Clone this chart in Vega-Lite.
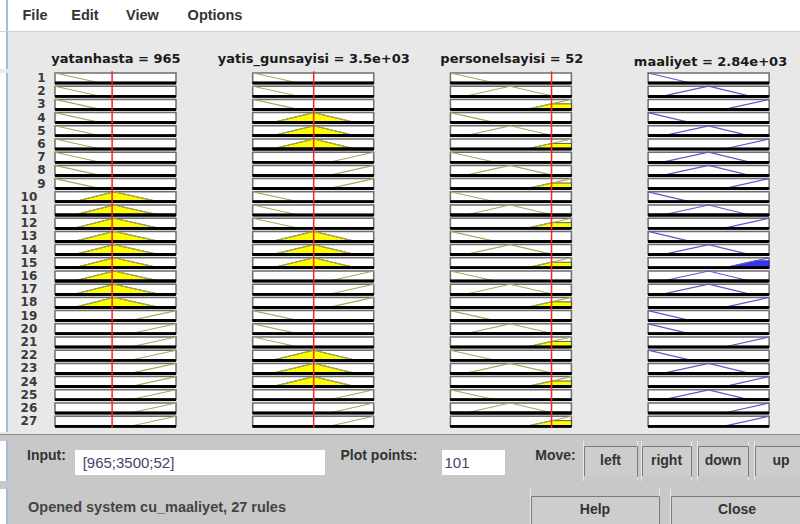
{
"$schema":"https://vega.github.io/schema/vega-lite/v6.json",
"background":"#e8e8e8",
"padding":0,
"spacing":0,
"config":{"view":{"fill":"white","stroke":"#6e6e6e","strokeWidth":1.5},"concat":{"spacing":0}},
"vconcat":[
{"hconcat":[
{"width":6,"height":31,"view":{"fill":"white","stroke":null},"data":{"values":[{}]},"mark":{"type":"text","fontSize":0},"encoding":{"text":{"value":""}}},
{"width":2,"height":31,"view":{"fill":"#9bbde0","stroke":null},"data":{"values":[{}]},"mark":{"type":"text","fontSize":0},"encoding":{"text":{"value":""}}},
{"width":14,"height":31,"view":{"fill":"white","stroke":null},"data":{"values":[{}]},"mark":{"type":"text","fontSize":0},"encoding":{"text":{"value":""}}},
{"width":26,"height":31,"view":{"fill":"white","stroke":null},"data":{"values":[{"t":"File"}]},"mark":{"type":"text","font":"Liberation Sans","fontSize":14.5,"fontWeight":"bold","color":"#333"},"encoding":{"text":{"field":"t"}}},
{"width":22,"height":31,"view":{"fill":"white","stroke":null},"data":{"values":[{}]},"mark":{"type":"text","fontSize":0},"encoding":{"text":{"value":""}}},
{"width":30,"height":31,"view":{"fill":"white","stroke":null},"data":{"values":[{"t":"Edit"}]},"mark":{"type":"text","font":"Liberation Sans","fontSize":14.5,"fontWeight":"bold","color":"#333"},"encoding":{"text":{"field":"t"}}},
{"width":23,"height":31,"view":{"fill":"white","stroke":null},"data":{"values":[{}]},"mark":{"type":"text","fontSize":0},"encoding":{"text":{"value":""}}},
{"width":39,"height":31,"view":{"fill":"white","stroke":null},"data":{"values":[{"t":"View"}]},"mark":{"type":"text","font":"Liberation Sans","fontSize":14.5,"fontWeight":"bold","color":"#333"},"encoding":{"text":{"field":"t"}}},
{"width":23,"height":31,"view":{"fill":"white","stroke":null},"data":{"values":[{}]},"mark":{"type":"text","fontSize":0},"encoding":{"text":{"value":""}}},
{"width":60,"height":31,"view":{"fill":"white","stroke":null},"data":{"values":[{"t":"Options"}]},"mark":{"type":"text","font":"Liberation Sans","fontSize":14.5,"fontWeight":"bold","color":"#333"},"encoding":{"text":{"field":"t"}}},
{"width":555,"height":31,"view":{"fill":"white","stroke":null},"data":{"values":[{}]},"mark":{"type":"text","fontSize":0},"encoding":{"text":{"value":""}}}
],"spacing":0,"bounds":"flush"},
{"width":800,"height":1,"view":{"fill":"#cfcfcf","stroke":null},"data":{"values":[{}]},"mark":{"type":"text","fontSize":0},"encoding":{"text":{"value":""}}},
{"hconcat":[
{"width":6,"height":11,"view":{"fill":"white","stroke":null},"data":{"values":[{}]},"mark":{"type":"text","fontSize":0},"encoding":{"text":{"value":""}}},
{"width":2,"height":11,"view":{"fill":"#9bbde0","stroke":null},"data":{"values":[{}]},"mark":{"type":"text","fontSize":0},"encoding":{"text":{"value":""}}},
{"width":792,"height":11,"view":{"fill":"#e8e8e8","stroke":null},"data":{"values":[{}]},"mark":{"type":"text","fontSize":0},"encoding":{"text":{"value":""}}}
],"spacing":0,"bounds":"flush"},
{"hconcat":[
{"width":6,"height":26,"view":{"fill":"white","stroke":null},"data":{"values":[{}]},"mark":{"type":"text","fontSize":0},"encoding":{"text":{"value":""}}},
{"width":2,"height":26,"view":{"fill":"#9bbde0","stroke":null},"data":{"values":[{}]},"mark":{"type":"text","fontSize":0},"encoding":{"text":{"value":""}}},
{"width":8.65,"height":26,"view":{"fill":"#e8e8e8","stroke":null},"data":{"values":[{}]},"mark":{"type":"text","fontSize":0},"encoding":{"text":{"value":""}}},
{"width":197.7,"height":26,"view":{"fill":"#e8e8e8","stroke":null},"data":{"values":[{"t":"yatanhasta = 965"}]},"mark":{"type":"text","font":"DejaVu Sans","fontSize":13,"fontWeight":"bold","color":"#1a1a1a","baseline":"top","dy":-3},"encoding":{"text":{"field":"t"}}},
{"width":197.7,"height":26,"view":{"fill":"#e8e8e8","stroke":null},"data":{"values":[{"t":"yatis_gunsayisi = 3.5e+03"}]},"mark":{"type":"text","font":"DejaVu Sans","fontSize":13,"fontWeight":"bold","color":"#1a1a1a","baseline":"top","dy":-3},"encoding":{"text":{"field":"t"}}},
{"width":197.7,"height":26,"view":{"fill":"#e8e8e8","stroke":null},"data":{"values":[{"t":"personelsayisi = 52"}]},"mark":{"type":"text","font":"DejaVu Sans","fontSize":13,"fontWeight":"bold","color":"#1a1a1a","baseline":"top","dy":-3},"encoding":{"text":{"field":"t"}}},
{"width":7.25,"height":26,"view":{"fill":"#e8e8e8","stroke":null},"data":{"values":[{}]},"mark":{"type":"text","fontSize":0},"encoding":{"text":{"value":""}}},
{"width":183,"height":26,"view":{"fill":"#e8e8e8","stroke":null},"data":{"values":[{"t":"maaliyet = 2.84e+03"}]},"mark":{"type":"text","font":"DejaVu Sans","fontSize":13,"fontWeight":"bold","color":"#1a1a1a","baseline":"top","dy":0},"encoding":{"text":{"field":"t"}}}
],"spacing":0,"bounds":"flush"},
{"hconcat":[
{"width":6,"height":359,"view":{"fill":"white","stroke":null},"data":{"values":[{}]},"mark":{"type":"text","fontSize":0},"encoding":{"text":{"value":""}}},
{"width":2,"height":359,"view":{"fill":"#9bbde0","stroke":null},"data":{"values":[{}]},"mark":{"type":"text","fontSize":0},"encoding":{"text":{"value":""}}},
{"width":12,"height":359,"view":{"fill":"#e8e8e8","stroke":null},"data":{"values":[{}]},"mark":{"type":"text","fontSize":0},"encoding":{"text":{"value":""}}},
{
"data":{"values":[
{"v":"yatanhasta = 965","r":1,"k":"mf","x":[0,0.375,1],"m":[1,0,0]},
{"v":"yatanhasta = 965","r":2,"k":"mf","x":[0,0.375,1],"m":[1,0,0]},
{"v":"yatanhasta = 965","r":3,"k":"mf","x":[0,0.375,1],"m":[1,0,0]},
{"v":"yatanhasta = 965","r":4,"k":"mf","x":[0,0.375,1],"m":[1,0,0]},
{"v":"yatanhasta = 965","r":5,"k":"mf","x":[0,0.375,1],"m":[1,0,0]},
{"v":"yatanhasta = 965","r":6,"k":"mf","x":[0,0.375,1],"m":[1,0,0]},
{"v":"yatanhasta = 965","r":7,"k":"mf","x":[0,0.375,1],"m":[1,0,0]},
{"v":"yatanhasta = 965","r":8,"k":"mf","x":[0,0.375,1],"m":[1,0,0]},
{"v":"yatanhasta = 965","r":9,"k":"mf","x":[0,0.375,1],"m":[1,0,0]},
{"v":"yatanhasta = 965","r":10,"k":"mf","x":[0,0.157,0.488,0.86,1],"m":[0,0,1,0,0]},
{"v":"yatanhasta = 965","r":11,"k":"mf","x":[0,0.157,0.488,0.86,1],"m":[0,0,1,0,0]},
{"v":"yatanhasta = 965","r":12,"k":"mf","x":[0,0.157,0.488,0.86,1],"m":[0,0,1,0,0]},
{"v":"yatanhasta = 965","r":13,"k":"mf","x":[0,0.157,0.488,0.86,1],"m":[0,0,1,0,0]},
{"v":"yatanhasta = 965","r":14,"k":"mf","x":[0,0.157,0.488,0.86,1],"m":[0,0,1,0,0]},
{"v":"yatanhasta = 965","r":15,"k":"mf","x":[0,0.157,0.488,0.86,1],"m":[0,0,1,0,0]},
{"v":"yatanhasta = 965","r":16,"k":"mf","x":[0,0.157,0.488,0.86,1],"m":[0,0,1,0,0]},
{"v":"yatanhasta = 965","r":17,"k":"mf","x":[0,0.157,0.488,0.86,1],"m":[0,0,1,0,0]},
{"v":"yatanhasta = 965","r":18,"k":"mf","x":[0,0.157,0.488,0.86,1],"m":[0,0,1,0,0]},
{"v":"yatanhasta = 965","r":19,"k":"mf","x":[0,0.62,1],"m":[0,0,1]},
{"v":"yatanhasta = 965","r":20,"k":"mf","x":[0,0.62,1],"m":[0,0,1]},
{"v":"yatanhasta = 965","r":21,"k":"mf","x":[0,0.62,1],"m":[0,0,1]},
{"v":"yatanhasta = 965","r":22,"k":"mf","x":[0,0.62,1],"m":[0,0,1]},
{"v":"yatanhasta = 965","r":23,"k":"mf","x":[0,0.62,1],"m":[0,0,1]},
{"v":"yatanhasta = 965","r":24,"k":"mf","x":[0,0.62,1],"m":[0,0,1]},
{"v":"yatanhasta = 965","r":25,"k":"mf","x":[0,0.62,1],"m":[0,0,1]},
{"v":"yatanhasta = 965","r":26,"k":"mf","x":[0,0.62,1],"m":[0,0,1]},
{"v":"yatanhasta = 965","r":27,"k":"mf","x":[0,0.62,1],"m":[0,0,1]},
{"v":"yatis_gunsayisi = 3.5e+03","r":1,"k":"mf","x":[0,0.38,1],"m":[1,0,0]},
{"v":"yatis_gunsayisi = 3.5e+03","r":2,"k":"mf","x":[0,0.38,1],"m":[1,0,0]},
{"v":"yatis_gunsayisi = 3.5e+03","r":3,"k":"mf","x":[0,0.38,1],"m":[1,0,0]},
{"v":"yatis_gunsayisi = 3.5e+03","r":4,"k":"mf","x":[0,0.16,0.505,0.85,1],"m":[0,0,1,0,0]},
{"v":"yatis_gunsayisi = 3.5e+03","r":5,"k":"mf","x":[0,0.16,0.505,0.85,1],"m":[0,0,1,0,0]},
{"v":"yatis_gunsayisi = 3.5e+03","r":6,"k":"mf","x":[0,0.16,0.505,0.85,1],"m":[0,0,1,0,0]},
{"v":"yatis_gunsayisi = 3.5e+03","r":7,"k":"mf","x":[0,0.63,1],"m":[0,0,1]},
{"v":"yatis_gunsayisi = 3.5e+03","r":8,"k":"mf","x":[0,0.63,1],"m":[0,0,1]},
{"v":"yatis_gunsayisi = 3.5e+03","r":9,"k":"mf","x":[0,0.63,1],"m":[0,0,1]},
{"v":"yatis_gunsayisi = 3.5e+03","r":10,"k":"mf","x":[0,0.38,1],"m":[1,0,0]},
{"v":"yatis_gunsayisi = 3.5e+03","r":11,"k":"mf","x":[0,0.38,1],"m":[1,0,0]},
{"v":"yatis_gunsayisi = 3.5e+03","r":12,"k":"mf","x":[0,0.38,1],"m":[1,0,0]},
{"v":"yatis_gunsayisi = 3.5e+03","r":13,"k":"mf","x":[0,0.16,0.505,0.85,1],"m":[0,0,1,0,0]},
{"v":"yatis_gunsayisi = 3.5e+03","r":14,"k":"mf","x":[0,0.16,0.505,0.85,1],"m":[0,0,1,0,0]},
{"v":"yatis_gunsayisi = 3.5e+03","r":15,"k":"mf","x":[0,0.16,0.505,0.85,1],"m":[0,0,1,0,0]},
{"v":"yatis_gunsayisi = 3.5e+03","r":16,"k":"mf","x":[0,0.63,1],"m":[0,0,1]},
{"v":"yatis_gunsayisi = 3.5e+03","r":17,"k":"mf","x":[0,0.63,1],"m":[0,0,1]},
{"v":"yatis_gunsayisi = 3.5e+03","r":18,"k":"mf","x":[0,0.63,1],"m":[0,0,1]},
{"v":"yatis_gunsayisi = 3.5e+03","r":19,"k":"mf","x":[0,0.38,1],"m":[1,0,0]},
{"v":"yatis_gunsayisi = 3.5e+03","r":20,"k":"mf","x":[0,0.38,1],"m":[1,0,0]},
{"v":"yatis_gunsayisi = 3.5e+03","r":21,"k":"mf","x":[0,0.38,1],"m":[1,0,0]},
{"v":"yatis_gunsayisi = 3.5e+03","r":22,"k":"mf","x":[0,0.16,0.505,0.85,1],"m":[0,0,1,0,0]},
{"v":"yatis_gunsayisi = 3.5e+03","r":23,"k":"mf","x":[0,0.16,0.505,0.85,1],"m":[0,0,1,0,0]},
{"v":"yatis_gunsayisi = 3.5e+03","r":24,"k":"mf","x":[0,0.16,0.505,0.85,1],"m":[0,0,1,0,0]},
{"v":"yatis_gunsayisi = 3.5e+03","r":25,"k":"mf","x":[0,0.63,1],"m":[0,0,1]},
{"v":"yatis_gunsayisi = 3.5e+03","r":26,"k":"mf","x":[0,0.63,1],"m":[0,0,1]},
{"v":"yatis_gunsayisi = 3.5e+03","r":27,"k":"mf","x":[0,0.63,1],"m":[0,0,1]},
{"v":"personelsayisi = 52","r":1,"k":"mf","x":[0,0.37,1],"m":[1,0,0]},
{"v":"personelsayisi = 52","r":2,"k":"mf","x":[0,0.123,0.493,0.85,1],"m":[0,0,1,0,0]},
{"v":"personelsayisi = 52","r":3,"k":"mf","x":[0,0.63,1],"m":[0,0,1]},
{"v":"personelsayisi = 52","r":4,"k":"mf","x":[0,0.37,1],"m":[1,0,0]},
{"v":"personelsayisi = 52","r":5,"k":"mf","x":[0,0.123,0.493,0.85,1],"m":[0,0,1,0,0]},
{"v":"personelsayisi = 52","r":6,"k":"mf","x":[0,0.63,1],"m":[0,0,1]},
{"v":"personelsayisi = 52","r":7,"k":"mf","x":[0,0.37,1],"m":[1,0,0]},
{"v":"personelsayisi = 52","r":8,"k":"mf","x":[0,0.123,0.493,0.85,1],"m":[0,0,1,0,0]},
{"v":"personelsayisi = 52","r":9,"k":"mf","x":[0,0.63,1],"m":[0,0,1]},
{"v":"personelsayisi = 52","r":10,"k":"mf","x":[0,0.37,1],"m":[1,0,0]},
{"v":"personelsayisi = 52","r":11,"k":"mf","x":[0,0.123,0.493,0.85,1],"m":[0,0,1,0,0]},
{"v":"personelsayisi = 52","r":12,"k":"mf","x":[0,0.63,1],"m":[0,0,1]},
{"v":"personelsayisi = 52","r":13,"k":"mf","x":[0,0.37,1],"m":[1,0,0]},
{"v":"personelsayisi = 52","r":14,"k":"mf","x":[0,0.123,0.493,0.85,1],"m":[0,0,1,0,0]},
{"v":"personelsayisi = 52","r":15,"k":"mf","x":[0,0.63,1],"m":[0,0,1]},
{"v":"personelsayisi = 52","r":16,"k":"mf","x":[0,0.37,1],"m":[1,0,0]},
{"v":"personelsayisi = 52","r":17,"k":"mf","x":[0,0.123,0.493,0.85,1],"m":[0,0,1,0,0]},
{"v":"personelsayisi = 52","r":18,"k":"mf","x":[0,0.63,1],"m":[0,0,1]},
{"v":"personelsayisi = 52","r":19,"k":"mf","x":[0,0.37,1],"m":[1,0,0]},
{"v":"personelsayisi = 52","r":20,"k":"mf","x":[0,0.123,0.493,0.85,1],"m":[0,0,1,0,0]},
{"v":"personelsayisi = 52","r":21,"k":"mf","x":[0,0.63,1],"m":[0,0,1]},
{"v":"personelsayisi = 52","r":22,"k":"mf","x":[0,0.37,1],"m":[1,0,0]},
{"v":"personelsayisi = 52","r":23,"k":"mf","x":[0,0.123,0.493,0.85,1],"m":[0,0,1,0,0]},
{"v":"personelsayisi = 52","r":24,"k":"mf","x":[0,0.63,1],"m":[0,0,1]},
{"v":"personelsayisi = 52","r":25,"k":"mf","x":[0,0.37,1],"m":[1,0,0]},
{"v":"personelsayisi = 52","r":26,"k":"mf","x":[0,0.123,0.493,0.85,1],"m":[0,0,1,0,0]},
{"v":"personelsayisi = 52","r":27,"k":"mf","x":[0,0.63,1],"m":[0,0,1]},
{"v":"maaliyet = 2.84e+03","r":1,"k":"mf","x":[0,0.35,1],"m":[1,0,0]},
{"v":"maaliyet = 2.84e+03","r":2,"k":"mf","x":[0,0.12,0.5,0.84,1],"m":[0,0,1,0,0]},
{"v":"maaliyet = 2.84e+03","r":3,"k":"mf","x":[0,0.63,1],"m":[0,0,1]},
{"v":"maaliyet = 2.84e+03","r":4,"k":"mf","x":[0,0.35,1],"m":[1,0,0]},
{"v":"maaliyet = 2.84e+03","r":5,"k":"mf","x":[0,0.12,0.5,0.84,1],"m":[0,0,1,0,0]},
{"v":"maaliyet = 2.84e+03","r":6,"k":"mf","x":[0,0.63,1],"m":[0,0,1]},
{"v":"maaliyet = 2.84e+03","r":7,"k":"mf","x":[0,0.12,0.5,0.84,1],"m":[0,0,1,0,0]},
{"v":"maaliyet = 2.84e+03","r":8,"k":"mf","x":[0,0.12,0.5,0.84,1],"m":[0,0,1,0,0]},
{"v":"maaliyet = 2.84e+03","r":9,"k":"mf","x":[0,0.63,1],"m":[0,0,1]},
{"v":"maaliyet = 2.84e+03","r":10,"k":"mf","x":[0,0.35,1],"m":[1,0,0]},
{"v":"maaliyet = 2.84e+03","r":11,"k":"mf","x":[0,0.12,0.5,0.84,1],"m":[0,0,1,0,0]},
{"v":"maaliyet = 2.84e+03","r":12,"k":"mf","x":[0,0.63,1],"m":[0,0,1]},
{"v":"maaliyet = 2.84e+03","r":13,"k":"mf","x":[0,0.35,1],"m":[1,0,0]},
{"v":"maaliyet = 2.84e+03","r":14,"k":"mf","x":[0,0.12,0.5,0.84,1],"m":[0,0,1,0,0]},
{"v":"maaliyet = 2.84e+03","r":15,"k":"mf","x":[0,0.63,1],"m":[0,0,1]},
{"v":"maaliyet = 2.84e+03","r":16,"k":"mf","x":[0,0.12,0.5,0.84,1],"m":[0,0,1,0,0]},
{"v":"maaliyet = 2.84e+03","r":17,"k":"mf","x":[0,0.12,0.5,0.84,1],"m":[0,0,1,0,0]},
{"v":"maaliyet = 2.84e+03","r":18,"k":"mf","x":[0,0.63,1],"m":[0,0,1]},
{"v":"maaliyet = 2.84e+03","r":19,"k":"mf","x":[0,0.35,1],"m":[1,0,0]},
{"v":"maaliyet = 2.84e+03","r":20,"k":"mf","x":[0,0.35,1],"m":[1,0,0]},
{"v":"maaliyet = 2.84e+03","r":21,"k":"mf","x":[0,0.63,1],"m":[0,0,1]},
{"v":"maaliyet = 2.84e+03","r":22,"k":"mf","x":[0,0.35,1],"m":[1,0,0]},
{"v":"maaliyet = 2.84e+03","r":23,"k":"mf","x":[0,0.12,0.5,0.84,1],"m":[0,0,1,0,0]},
{"v":"maaliyet = 2.84e+03","r":24,"k":"mf","x":[0,0.63,1],"m":[0,0,1]},
{"v":"maaliyet = 2.84e+03","r":25,"k":"mf","x":[0,0.12,0.5,0.84,1],"m":[0,0,1,0,0]},
{"v":"maaliyet = 2.84e+03","r":26,"k":"mf","x":[0,0.63,1],"m":[0,0,1]},
{"v":"maaliyet = 2.84e+03","r":27,"k":"mf","x":[0,0.63,1],"m":[0,0,1]},
{"v":"yatanhasta = 965","r":10,"k":"fill","x":[0.157,0.471,0.507,0.86],"m":[0,0.95,0.95,0]},
{"v":"yatanhasta = 965","r":11,"k":"fill","x":[0.157,0.471,0.507,0.86],"m":[0,0.95,0.95,0]},
{"v":"yatanhasta = 965","r":12,"k":"fill","x":[0.157,0.471,0.507,0.86],"m":[0,0.95,0.95,0]},
{"v":"yatanhasta = 965","r":13,"k":"fill","x":[0.157,0.471,0.507,0.86],"m":[0,0.95,0.95,0]},
{"v":"yatanhasta = 965","r":14,"k":"fill","x":[0.157,0.471,0.507,0.86],"m":[0,0.95,0.95,0]},
{"v":"yatanhasta = 965","r":15,"k":"fill","x":[0.157,0.471,0.507,0.86],"m":[0,0.95,0.95,0]},
{"v":"yatanhasta = 965","r":16,"k":"fill","x":[0.157,0.471,0.507,0.86],"m":[0,0.95,0.95,0]},
{"v":"yatanhasta = 965","r":17,"k":"fill","x":[0.157,0.471,0.507,0.86],"m":[0,0.95,0.95,0]},
{"v":"yatanhasta = 965","r":18,"k":"fill","x":[0.157,0.471,0.507,0.86],"m":[0,0.95,0.95,0]},
{"v":"yatis_gunsayisi = 3.5e+03","r":4,"k":"fill","x":[0.16,0.505,0.85],"m":[0,1,0]},
{"v":"yatis_gunsayisi = 3.5e+03","r":5,"k":"fill","x":[0.16,0.505,0.85],"m":[0,1,0]},
{"v":"yatis_gunsayisi = 3.5e+03","r":6,"k":"fill","x":[0.16,0.505,0.85],"m":[0,1,0]},
{"v":"yatis_gunsayisi = 3.5e+03","r":13,"k":"fill","x":[0.16,0.505,0.85],"m":[0,1,0]},
{"v":"yatis_gunsayisi = 3.5e+03","r":14,"k":"fill","x":[0.16,0.505,0.85],"m":[0,1,0]},
{"v":"yatis_gunsayisi = 3.5e+03","r":15,"k":"fill","x":[0.16,0.505,0.85],"m":[0,1,0]},
{"v":"yatis_gunsayisi = 3.5e+03","r":22,"k":"fill","x":[0.16,0.505,0.85],"m":[0,1,0]},
{"v":"yatis_gunsayisi = 3.5e+03","r":23,"k":"fill","x":[0.16,0.505,0.85],"m":[0,1,0]},
{"v":"yatis_gunsayisi = 3.5e+03","r":24,"k":"fill","x":[0.16,0.505,0.85],"m":[0,1,0]},
{"v":"personelsayisi = 52","r":3,"k":"fill","x":[0.63,0.836,1],"m":[0,0.557,0.557]},
{"v":"personelsayisi = 52","r":6,"k":"fill","x":[0.63,0.836,1],"m":[0,0.557,0.557]},
{"v":"personelsayisi = 52","r":9,"k":"fill","x":[0.63,0.836,1],"m":[0,0.557,0.557]},
{"v":"personelsayisi = 52","r":12,"k":"fill","x":[0.63,0.836,1],"m":[0,0.557,0.557]},
{"v":"personelsayisi = 52","r":15,"k":"fill","x":[0.63,0.836,1],"m":[0,0.557,0.557]},
{"v":"personelsayisi = 52","r":18,"k":"fill","x":[0.63,0.836,1],"m":[0,0.557,0.557]},
{"v":"personelsayisi = 52","r":21,"k":"fill","x":[0.63,0.836,1],"m":[0,0.557,0.557]},
{"v":"personelsayisi = 52","r":24,"k":"fill","x":[0.63,0.836,1],"m":[0,0.557,0.557]},
{"v":"personelsayisi = 52","r":27,"k":"fill","x":[0.63,0.836,1],"m":[0,0.557,0.557]},
{"v":"maaliyet = 2.84e+03","r":15,"k":"fill","x":[0.63,0.89,1],"m":[0,0.7,0.7]},
{"v":"yatanhasta = 965","r":1,"k":"in","x":[0.472],"m":[0]},
{"v":"yatanhasta = 965","r":2,"k":"in","x":[0.472],"m":[0]},
{"v":"yatanhasta = 965","r":3,"k":"in","x":[0.472],"m":[0]},
{"v":"yatanhasta = 965","r":4,"k":"in","x":[0.472],"m":[0]},
{"v":"yatanhasta = 965","r":5,"k":"in","x":[0.472],"m":[0]},
{"v":"yatanhasta = 965","r":6,"k":"in","x":[0.472],"m":[0]},
{"v":"yatanhasta = 965","r":7,"k":"in","x":[0.472],"m":[0]},
{"v":"yatanhasta = 965","r":8,"k":"in","x":[0.472],"m":[0]},
{"v":"yatanhasta = 965","r":9,"k":"in","x":[0.472],"m":[0]},
{"v":"yatanhasta = 965","r":10,"k":"in","x":[0.472],"m":[0]},
{"v":"yatanhasta = 965","r":11,"k":"in","x":[0.472],"m":[0]},
{"v":"yatanhasta = 965","r":12,"k":"in","x":[0.472],"m":[0]},
{"v":"yatanhasta = 965","r":13,"k":"in","x":[0.472],"m":[0]},
{"v":"yatanhasta = 965","r":14,"k":"in","x":[0.472],"m":[0]},
{"v":"yatanhasta = 965","r":15,"k":"in","x":[0.472],"m":[0]},
{"v":"yatanhasta = 965","r":16,"k":"in","x":[0.472],"m":[0]},
{"v":"yatanhasta = 965","r":17,"k":"in","x":[0.472],"m":[0]},
{"v":"yatanhasta = 965","r":18,"k":"in","x":[0.472],"m":[0]},
{"v":"yatanhasta = 965","r":19,"k":"in","x":[0.472],"m":[0]},
{"v":"yatanhasta = 965","r":20,"k":"in","x":[0.472],"m":[0]},
{"v":"yatanhasta = 965","r":21,"k":"in","x":[0.472],"m":[0]},
{"v":"yatanhasta = 965","r":22,"k":"in","x":[0.472],"m":[0]},
{"v":"yatanhasta = 965","r":23,"k":"in","x":[0.472],"m":[0]},
{"v":"yatanhasta = 965","r":24,"k":"in","x":[0.472],"m":[0]},
{"v":"yatanhasta = 965","r":25,"k":"in","x":[0.472],"m":[0]},
{"v":"yatanhasta = 965","r":26,"k":"in","x":[0.472],"m":[0]},
{"v":"yatanhasta = 965","r":27,"k":"in","x":[0.472],"m":[0]},
{"v":"yatis_gunsayisi = 3.5e+03","r":1,"k":"in","x":[0.504],"m":[0]},
{"v":"yatis_gunsayisi = 3.5e+03","r":2,"k":"in","x":[0.504],"m":[0]},
{"v":"yatis_gunsayisi = 3.5e+03","r":3,"k":"in","x":[0.504],"m":[0]},
{"v":"yatis_gunsayisi = 3.5e+03","r":4,"k":"in","x":[0.504],"m":[0]},
{"v":"yatis_gunsayisi = 3.5e+03","r":5,"k":"in","x":[0.504],"m":[0]},
{"v":"yatis_gunsayisi = 3.5e+03","r":6,"k":"in","x":[0.504],"m":[0]},
{"v":"yatis_gunsayisi = 3.5e+03","r":7,"k":"in","x":[0.504],"m":[0]},
{"v":"yatis_gunsayisi = 3.5e+03","r":8,"k":"in","x":[0.504],"m":[0]},
{"v":"yatis_gunsayisi = 3.5e+03","r":9,"k":"in","x":[0.504],"m":[0]},
{"v":"yatis_gunsayisi = 3.5e+03","r":10,"k":"in","x":[0.504],"m":[0]},
{"v":"yatis_gunsayisi = 3.5e+03","r":11,"k":"in","x":[0.504],"m":[0]},
{"v":"yatis_gunsayisi = 3.5e+03","r":12,"k":"in","x":[0.504],"m":[0]},
{"v":"yatis_gunsayisi = 3.5e+03","r":13,"k":"in","x":[0.504],"m":[0]},
{"v":"yatis_gunsayisi = 3.5e+03","r":14,"k":"in","x":[0.504],"m":[0]},
{"v":"yatis_gunsayisi = 3.5e+03","r":15,"k":"in","x":[0.504],"m":[0]},
{"v":"yatis_gunsayisi = 3.5e+03","r":16,"k":"in","x":[0.504],"m":[0]},
{"v":"yatis_gunsayisi = 3.5e+03","r":17,"k":"in","x":[0.504],"m":[0]},
{"v":"yatis_gunsayisi = 3.5e+03","r":18,"k":"in","x":[0.504],"m":[0]},
{"v":"yatis_gunsayisi = 3.5e+03","r":19,"k":"in","x":[0.504],"m":[0]},
{"v":"yatis_gunsayisi = 3.5e+03","r":20,"k":"in","x":[0.504],"m":[0]},
{"v":"yatis_gunsayisi = 3.5e+03","r":21,"k":"in","x":[0.504],"m":[0]},
{"v":"yatis_gunsayisi = 3.5e+03","r":22,"k":"in","x":[0.504],"m":[0]},
{"v":"yatis_gunsayisi = 3.5e+03","r":23,"k":"in","x":[0.504],"m":[0]},
{"v":"yatis_gunsayisi = 3.5e+03","r":24,"k":"in","x":[0.504],"m":[0]},
{"v":"yatis_gunsayisi = 3.5e+03","r":25,"k":"in","x":[0.504],"m":[0]},
{"v":"yatis_gunsayisi = 3.5e+03","r":26,"k":"in","x":[0.504],"m":[0]},
{"v":"yatis_gunsayisi = 3.5e+03","r":27,"k":"in","x":[0.504],"m":[0]},
{"v":"personelsayisi = 52","r":1,"k":"in","x":[0.836],"m":[0]},
{"v":"personelsayisi = 52","r":2,"k":"in","x":[0.836],"m":[0]},
{"v":"personelsayisi = 52","r":3,"k":"in","x":[0.836],"m":[0]},
{"v":"personelsayisi = 52","r":4,"k":"in","x":[0.836],"m":[0]},
{"v":"personelsayisi = 52","r":5,"k":"in","x":[0.836],"m":[0]},
{"v":"personelsayisi = 52","r":6,"k":"in","x":[0.836],"m":[0]},
{"v":"personelsayisi = 52","r":7,"k":"in","x":[0.836],"m":[0]},
{"v":"personelsayisi = 52","r":8,"k":"in","x":[0.836],"m":[0]},
{"v":"personelsayisi = 52","r":9,"k":"in","x":[0.836],"m":[0]},
{"v":"personelsayisi = 52","r":10,"k":"in","x":[0.836],"m":[0]},
{"v":"personelsayisi = 52","r":11,"k":"in","x":[0.836],"m":[0]},
{"v":"personelsayisi = 52","r":12,"k":"in","x":[0.836],"m":[0]},
{"v":"personelsayisi = 52","r":13,"k":"in","x":[0.836],"m":[0]},
{"v":"personelsayisi = 52","r":14,"k":"in","x":[0.836],"m":[0]},
{"v":"personelsayisi = 52","r":15,"k":"in","x":[0.836],"m":[0]},
{"v":"personelsayisi = 52","r":16,"k":"in","x":[0.836],"m":[0]},
{"v":"personelsayisi = 52","r":17,"k":"in","x":[0.836],"m":[0]},
{"v":"personelsayisi = 52","r":18,"k":"in","x":[0.836],"m":[0]},
{"v":"personelsayisi = 52","r":19,"k":"in","x":[0.836],"m":[0]},
{"v":"personelsayisi = 52","r":20,"k":"in","x":[0.836],"m":[0]},
{"v":"personelsayisi = 52","r":21,"k":"in","x":[0.836],"m":[0]},
{"v":"personelsayisi = 52","r":22,"k":"in","x":[0.836],"m":[0]},
{"v":"personelsayisi = 52","r":23,"k":"in","x":[0.836],"m":[0]},
{"v":"personelsayisi = 52","r":24,"k":"in","x":[0.836],"m":[0]},
{"v":"personelsayisi = 52","r":25,"k":"in","x":[0.836],"m":[0]},
{"v":"personelsayisi = 52","r":26,"k":"in","x":[0.836],"m":[0]},
{"v":"personelsayisi = 52","r":27,"k":"in","x":[0.836],"m":[0]}
]},
"transform":[{"flatten":["x","m"]}],
"bounds":"flush",
"facet":{
"row":{"field":"r","type":"ordinal","title":null,"header":{"labelAngle":0,"labelAlign":"right","labelFont":"DejaVu Sans","labelFontWeight":"bold","labelFontSize":12,"labelColor":"#3a3a3a","labelPadding":1}},
"column":{"field":"v","type":"nominal","title":null,"sort":["yatanhasta = 965","yatis_gunsayisi = 3.5e+03","personelsayisi = 52","maaliyet = 2.84e+03"],"header":{"labels":false}}
},
"spacing":{"row":3.2,"column":76.7},
"spec":{"width":121,"height":10,
"encoding":{"x":{"field":"x","type":"quantitative","scale":{"domain":[0,1]},"axis":null},"y":{"field":"m","type":"quantitative","scale":{"domain":[0,1]},"axis":null}},
"layer":[
{"transform":[{"filter":"datum.k=='fill' && datum.v!='maaliyet = 2.84e+03'"}],"mark":{"type":"area","color":"#ffff00","stroke":"#333","strokeWidth":0.8}},
{"transform":[{"filter":"datum.k=='fill' && datum.v=='maaliyet = 2.84e+03'"}],"mark":{"type":"area","color":"#3535f0","stroke":"#2222aa","strokeWidth":0.8}},
{"transform":[{"filter":"datum.k=='mf' && datum.v!='maaliyet = 2.84e+03'"}],"mark":{"type":"line","color":"#a8a85c","strokeWidth":1.1}},
{"transform":[{"filter":"datum.k=='mf' && datum.v=='maaliyet = 2.84e+03'"}],"mark":{"type":"line","color":"#5a5ac8","strokeWidth":1.2}},
{"transform":[{"filter":"datum.k=='mf'"}],"mark":{"type":"rule","color":"#000","strokeWidth":2.5},"encoding":{"x":null,"y":{"datum":0}}},
{"transform":[{"filter":"datum.k=='in'"}],"mark":{"type":"rule","color":"#ff2020","strokeWidth":1.5},"encoding":{"y":{"datum":-0.17},"y2":{"datum":1.17}}}
]}
}
],"spacing":0},
{"width":800,"height":2,"view":{"fill":"#e8e8e8","stroke":null},"data":{"values":[{}]},"mark":{"type":"text","fontSize":0},"encoding":{"text":{"value":""}}},
{"width":800,"height":1,"view":{"fill":"#8a8a8a","stroke":null},"data":{"values":[{}]},"mark":{"type":"text","fontSize":0},"encoding":{"text":{"value":""}}},
{"width":800,"height":6,"view":{"fill":"#c8c8c8","stroke":null},"data":{"values":[{}]},"mark":{"type":"text","fontSize":0},"encoding":{"text":{"value":""}}},
{"hconcat":[
{"width":6,"height":40,"view":{"fill":"white","stroke":null},"data":{"values":[{}]},"mark":{"type":"text","fontSize":0},"encoding":{"text":{"value":""}}},
{"width":2,"height":40,"view":{"fill":"#9bbde0","stroke":null},"data":{"values":[{}]},"mark":{"type":"text","fontSize":0},"encoding":{"text":{"value":""}}},
{"width":10,"height":40,"view":{"fill":"#c8c8c8","stroke":null},"data":{"values":[{}]},"mark":{"type":"text","fontSize":0},"encoding":{"text":{"value":""}}},
{"vconcat":[
{"width":57,"height":30,"view":{"fill":"#c8c8c8","stroke":null},"data":{"values":[{"t":"Input:"}]},"mark":{"type":"text","font":"Liberation Sans","fontSize":14,"fontWeight":"bold","color":"#333"},"encoding":{"text":{"field":"t"}}},
{"width":57,"height":10,"view":{"fill":"#c8c8c8","stroke":null},"data":{"values":[{}]},"mark":{"type":"text","fontSize":0},"encoding":{"text":{"value":""}}}
],"spacing":0,"bounds":"flush"},
{"vconcat":[
{"width":250,"height":9,"view":{"fill":"#c8c8c8","stroke":null},"data":{"values":[{}]},"mark":{"type":"text","fontSize":0},"encoding":{"text":{"value":""}}},
{"hconcat":[
{"width":107,"height":25,"view":{"fill":"white","stroke":null},"data":{"values":[{"t":"[965;3500;52]"}]},"mark":{"type":"text","font":"Liberation Sans","fontSize":15,"color":"#45456a"},"encoding":{"text":{"field":"t"}}},
{"width":143,"height":25,"view":{"fill":"white","stroke":null},"data":{"values":[{}]},"mark":{"type":"text","fontSize":0},"encoding":{"text":{"value":""}}}
],"spacing":0,"bounds":"flush"},
{"width":250,"height":6,"view":{"fill":"#c8c8c8","stroke":null},"data":{"values":[{}]},"mark":{"type":"text","fontSize":0},"encoding":{"text":{"value":""}}}
],"spacing":0},
{"width":13,"height":40,"view":{"fill":"#c8c8c8","stroke":null},"data":{"values":[{}]},"mark":{"type":"text","fontSize":0},"encoding":{"text":{"value":""}}},
{"vconcat":[
{"width":82,"height":30,"view":{"fill":"#c8c8c8","stroke":null},"data":{"values":[{"t":"Plot points:"}]},"mark":{"type":"text","font":"Liberation Sans","fontSize":14,"fontWeight":"bold","color":"#333"},"encoding":{"text":{"field":"t"}}},
{"width":82,"height":10,"view":{"fill":"#c8c8c8","stroke":null},"data":{"values":[{}]},"mark":{"type":"text","fontSize":0},"encoding":{"text":{"value":""}}}
],"spacing":0,"bounds":"flush"},
{"width":22,"height":40,"view":{"fill":"#c8c8c8","stroke":null},"data":{"values":[{}]},"mark":{"type":"text","fontSize":0},"encoding":{"text":{"value":""}}},
{"vconcat":[
{"width":63,"height":9,"view":{"fill":"#c8c8c8","stroke":null},"data":{"values":[{}]},"mark":{"type":"text","fontSize":0},"encoding":{"text":{"value":""}}},
{"hconcat":[
{"width":30,"height":25,"view":{"fill":"white","stroke":null},"data":{"values":[{"t":"101"}]},"mark":{"type":"text","font":"Liberation Sans","fontSize":15,"color":"#45456a"},"encoding":{"text":{"field":"t"}}},
{"width":33,"height":25,"view":{"fill":"white","stroke":null},"data":{"values":[{}]},"mark":{"type":"text","fontSize":0},"encoding":{"text":{"value":""}}}
],"spacing":0,"bounds":"flush"},
{"width":63,"height":6,"view":{"fill":"#c8c8c8","stroke":null},"data":{"values":[{}]},"mark":{"type":"text","fontSize":0},"encoding":{"text":{"value":""}}}
],"spacing":0},
{"width":23,"height":40,"view":{"fill":"#c8c8c8","stroke":null},"data":{"values":[{}]},"mark":{"type":"text","fontSize":0},"encoding":{"text":{"value":""}}},
{"vconcat":[
{"width":55,"height":30,"view":{"fill":"#c8c8c8","stroke":null},"data":{"values":[{"t":"Move:"}]},"mark":{"type":"text","font":"Liberation Sans","fontSize":14,"fontWeight":"bold","color":"#333"},"encoding":{"text":{"field":"t"}}},
{"width":55,"height":10,"view":{"fill":"#c8c8c8","stroke":null},"data":{"values":[{}]},"mark":{"type":"text","fontSize":0},"encoding":{"text":{"value":""}}}
],"spacing":0,"bounds":"flush"},
{"vconcat":[
{"width":53,"height":5,"view":{"fill":"#c8c8c8","stroke":null},"data":{"values":[{}]},"mark":{"type":"text","fontSize":0},"encoding":{"text":{"value":""}}},
{"width":53,"height":30,"view":{"fill":"#cdcdcd","stroke":"#7a7a7a","strokeWidth":1},"data":{"values":[{"t":"left"}]},"mark":{"type":"text","font":"Liberation Sans","fontSize":14,"fontWeight":"bold","color":"#333"},"encoding":{"text":{"field":"t"}}},
{"width":53,"height":5,"view":{"fill":"#c8c8c8","stroke":null},"data":{"values":[{}]},"mark":{"type":"text","fontSize":0},"encoding":{"text":{"value":""}}}
],"spacing":0,"bounds":"flush"},
{"width":3,"height":40,"view":{"fill":"#c8c8c8","stroke":null},"data":{"values":[{}]},"mark":{"type":"text","fontSize":0},"encoding":{"text":{"value":""}}},
{"vconcat":[
{"width":49,"height":5,"view":{"fill":"#c8c8c8","stroke":null},"data":{"values":[{}]},"mark":{"type":"text","fontSize":0},"encoding":{"text":{"value":""}}},
{"width":49,"height":30,"view":{"fill":"#cdcdcd","stroke":"#7a7a7a","strokeWidth":1},"data":{"values":[{"t":"right"}]},"mark":{"type":"text","font":"Liberation Sans","fontSize":14,"fontWeight":"bold","color":"#333"},"encoding":{"text":{"field":"t"}}},
{"width":49,"height":5,"view":{"fill":"#c8c8c8","stroke":null},"data":{"values":[{}]},"mark":{"type":"text","fontSize":0},"encoding":{"text":{"value":""}}}
],"spacing":0,"bounds":"flush"},
{"width":5,"height":40,"view":{"fill":"#c8c8c8","stroke":null},"data":{"values":[{}]},"mark":{"type":"text","fontSize":0},"encoding":{"text":{"value":""}}},
{"vconcat":[
{"width":50,"height":5,"view":{"fill":"#c8c8c8","stroke":null},"data":{"values":[{}]},"mark":{"type":"text","fontSize":0},"encoding":{"text":{"value":""}}},
{"width":50,"height":30,"view":{"fill":"#cdcdcd","stroke":"#7a7a7a","strokeWidth":1},"data":{"values":[{"t":"down"}]},"mark":{"type":"text","font":"Liberation Sans","fontSize":14,"fontWeight":"bold","color":"#333"},"encoding":{"text":{"field":"t"}}},
{"width":50,"height":5,"view":{"fill":"#c8c8c8","stroke":null},"data":{"values":[{}]},"mark":{"type":"text","fontSize":0},"encoding":{"text":{"value":""}}}
],"spacing":0,"bounds":"flush"},
{"width":5,"height":40,"view":{"fill":"#c8c8c8","stroke":null},"data":{"values":[{}]},"mark":{"type":"text","fontSize":0},"encoding":{"text":{"value":""}}},
{"vconcat":[
{"width":52,"height":5,"view":{"fill":"#c8c8c8","stroke":null},"data":{"values":[{}]},"mark":{"type":"text","fontSize":0},"encoding":{"text":{"value":""}}},
{"width":52,"height":30,"view":{"fill":"#cdcdcd","stroke":"#7a7a7a","strokeWidth":1},"data":{"values":[{"t":"up"}]},"mark":{"type":"text","font":"Liberation Sans","fontSize":14,"fontWeight":"bold","color":"#333"},"encoding":{"text":{"field":"t"}}},
{"width":52,"height":5,"view":{"fill":"#c8c8c8","stroke":null},"data":{"values":[{}]},"mark":{"type":"text","fontSize":0},"encoding":{"text":{"value":""}}}
],"spacing":0,"bounds":"flush"}
],"spacing":0},
{"width":800,"height":8,"view":{"fill":"#c8c8c8","stroke":null},"data":{"values":[{}]},"mark":{"type":"text","fontSize":0},"encoding":{"text":{"value":""}}},
{"hconcat":[
{"width":6,"height":37,"view":{"fill":"white","stroke":null},"data":{"values":[{}]},"mark":{"type":"text","fontSize":0},"encoding":{"text":{"value":""}}},
{"width":2,"height":37,"view":{"fill":"#9bbde0","stroke":null},"data":{"values":[{}]},"mark":{"type":"text","fontSize":0},"encoding":{"text":{"value":""}}},
{"width":10,"height":37,"view":{"fill":"#c8c8c8","stroke":null},"data":{"values":[{}]},"mark":{"type":"text","fontSize":0},"encoding":{"text":{"value":""}}},
{"width":278,"height":37,"view":{"fill":"#c8c8c8","stroke":null},"data":{"values":[{"t":"Opened system cu_maaliyet, 27 rules"}]},"mark":{"type":"text","font":"Liberation Sans","fontSize":14.5,"fontWeight":"bold","color":"#444"},"encoding":{"text":{"field":"t"}}},
{"width":234,"height":37,"view":{"fill":"#c8c8c8","stroke":null},"data":{"values":[{}]},"mark":{"type":"text","fontSize":0},"encoding":{"text":{"value":""}}},
{"vconcat":[
{"width":128,"height":7,"view":{"fill":"#c8c8c8","stroke":null},"data":{"values":[{}]},"mark":{"type":"text","fontSize":0},"encoding":{"text":{"value":""}}},
{"width":128,"height":28,"view":{"fill":"#cdcdcd","stroke":"#7a7a7a","strokeWidth":1},"data":{"values":[{"t":"Help"}]},"mark":{"type":"text","font":"Liberation Sans","fontSize":14,"fontWeight":"bold","color":"#333"},"encoding":{"text":{"field":"t"}}},
{"width":128,"height":2,"view":{"fill":"#c8c8c8","stroke":null},"data":{"values":[{}]},"mark":{"type":"text","fontSize":0},"encoding":{"text":{"value":""}}}
],"spacing":0,"bounds":"flush"},
{"width":10,"height":37,"view":{"fill":"#c8c8c8","stroke":null},"data":{"values":[{}]},"mark":{"type":"text","fontSize":0},"encoding":{"text":{"value":""}}},
{"vconcat":[
{"width":132,"height":7,"view":{"fill":"#c8c8c8","stroke":null},"data":{"values":[{}]},"mark":{"type":"text","fontSize":0},"encoding":{"text":{"value":""}}},
{"width":132,"height":28,"view":{"fill":"#cdcdcd","stroke":"#7a7a7a","strokeWidth":1},"data":{"values":[{"t":"Close"}]},"mark":{"type":"text","font":"Liberation Sans","fontSize":14,"fontWeight":"bold","color":"#333"},"encoding":{"text":{"field":"t"}}},
{"width":132,"height":2,"view":{"fill":"#c8c8c8","stroke":null},"data":{"values":[{}]},"mark":{"type":"text","fontSize":0},"encoding":{"text":{"value":""}}}
],"spacing":0,"bounds":"flush"}
],"spacing":0},
{"width":800,"height":3,"view":{"fill":"#c8c8c8","stroke":null},"data":{"values":[{}]},"mark":{"type":"text","fontSize":0},"encoding":{"text":{"value":""}}}
]
}
